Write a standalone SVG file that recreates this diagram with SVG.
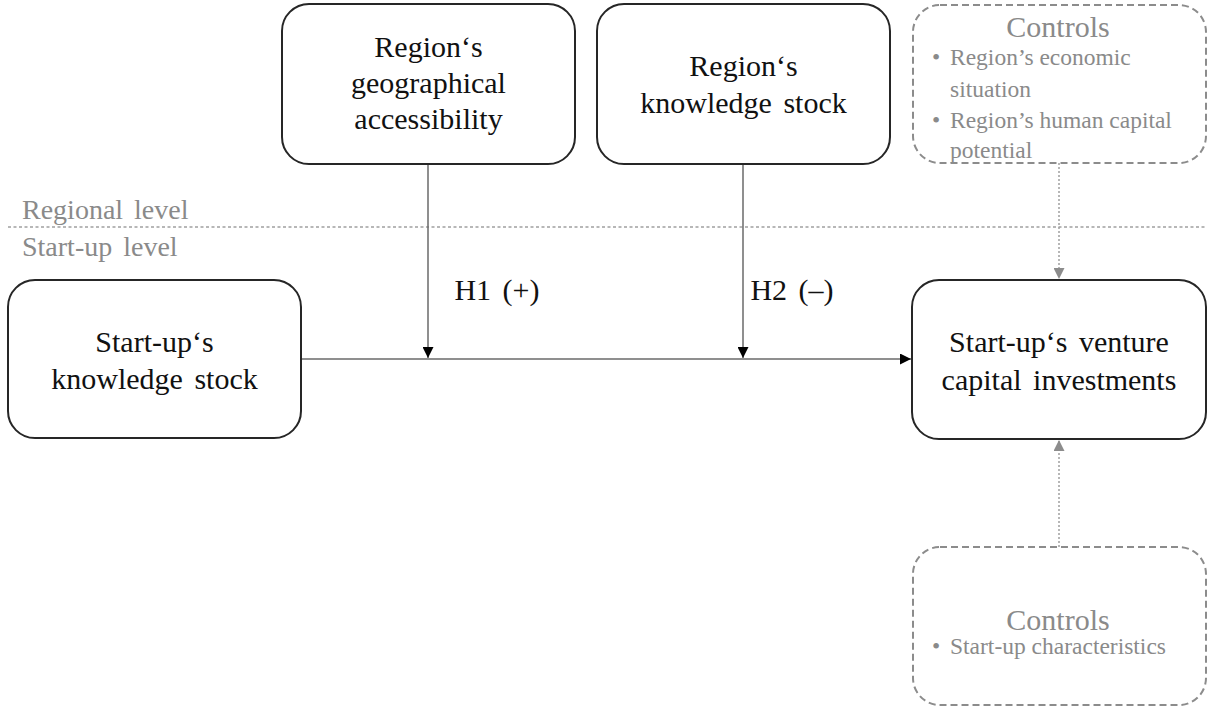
<svg xmlns="http://www.w3.org/2000/svg" width="1207" height="711" viewBox="0 0 1207 711">
<style>
.box{fill:#fff;stroke:#262626;stroke-width:2}
.dbox{fill:#fff;stroke:#8c8c8c;stroke-width:2;stroke-dasharray:7 4}
.t{font-family:"Liberation Serif","Times New Roman",serif;font-size:30px;fill:#111;text-anchor:middle;word-spacing:4px}
.g{font-family:"Liberation Serif","Times New Roman",serif;fill:#8a8a8a}
.lvl{font-size:28px;word-spacing:4px}
.ctl{font-size:30px;text-anchor:middle}
.bul{font-size:23.5px}
.conn{stroke:#6a6a6a;stroke-width:1.5;fill:none}
.dconn{stroke:#a0a0a0;stroke-width:1.5;fill:none;stroke-dasharray:2 2}
</style>
<defs>
<marker id="ah" viewBox="0 0 10 10" refX="10" refY="5" markerWidth="11" markerHeight="11" markerUnits="userSpaceOnUse" orient="auto"><path d="M0,0 L10,5 L0,10 z" fill="#000"/></marker>
<marker id="ahg" viewBox="0 0 10 10" refX="10" refY="5" markerWidth="11" markerHeight="11" markerUnits="userSpaceOnUse" orient="auto"><path d="M0,0 L10,5 L0,10 z" fill="#8c8c8c"/></marker>
</defs>
<rect width="1207" height="711" fill="#fff"/>
<g id="levels">
<line x1="8" y1="227" x2="1207" y2="227" stroke="#a0a0a0" stroke-width="1.5" stroke-dasharray="3 2.5"/>
<text class="g lvl" x="22" y="219">Regional level</text>
<text class="g lvl" x="22" y="256">Start-up level</text>
</g>
<g id="connectors">
<line class="conn" x1="301" y1="359" x2="911" y2="359" marker-end="url(#ah)"/>
<line class="conn" x1="428" y1="164" x2="428" y2="358" marker-end="url(#ah)"/>
<line class="conn" x1="743" y1="164" x2="743" y2="358" marker-end="url(#ah)"/>
<line class="dconn" x1="1059" y1="163" x2="1059" y2="279" marker-end="url(#ahg)"/>
<line class="dconn" x1="1059" y1="547" x2="1059" y2="440" marker-end="url(#ahg)"/>
<text class="t" x="497" y="300">H1 (+)</text>
<text class="t" x="792" y="300">H2 (–)</text>
</g>
<g id="geo">
<rect class="box" x="282" y="4" width="293" height="160" rx="27"/>
<text class="t" x="428.5" y="57">Region‘s</text>
<text class="t" x="428.5" y="93">geographical</text>
<text class="t" x="428.5" y="129">accessibility</text>
</g>
<g id="regknow">
<rect class="box" x="597" y="4" width="293" height="160" rx="27"/>
<text class="t" x="743.5" y="76">Region‘s</text>
<text class="t" x="743.5" y="113">knowledge stock</text>
</g>
<g id="controls-region">
<rect class="dbox" x="913" y="5" width="293" height="158" rx="27"/>
<text class="g ctl" x="1058" y="37">Controls</text>
<text class="g bul" x="932" y="65">•</text>
<text class="g bul" x="950" y="65">Region’s economic</text>
<text class="g bul" x="950" y="97">situation</text>
<text class="g bul" x="932" y="128">•</text>
<text class="g bul" x="950" y="128">Region’s human capital</text>
<text class="g bul" x="950" y="158">potential</text>
</g>
<g id="startup">
<rect class="box" x="8" y="280" width="293" height="158" rx="27"/>
<text class="t" x="154.5" y="352">Start-up‘s</text>
<text class="t" x="154.5" y="389">knowledge stock</text>
</g>
<g id="vc">
<rect class="box" x="912" y="280" width="294" height="159" rx="27"/>
<text class="t" x="1059" y="352">Start-up‘s venture</text>
<text class="t" x="1059" y="390">capital investments</text>
</g>
<g id="controls-startup">
<rect class="dbox" x="913" y="547" width="293" height="158" rx="27"/>
<text class="g ctl" x="1058" y="630">Controls</text>
<text class="g bul" x="932" y="654">•</text>
<text class="g bul" x="950" y="654">Start-up characteristics</text>
</g>
</svg>
